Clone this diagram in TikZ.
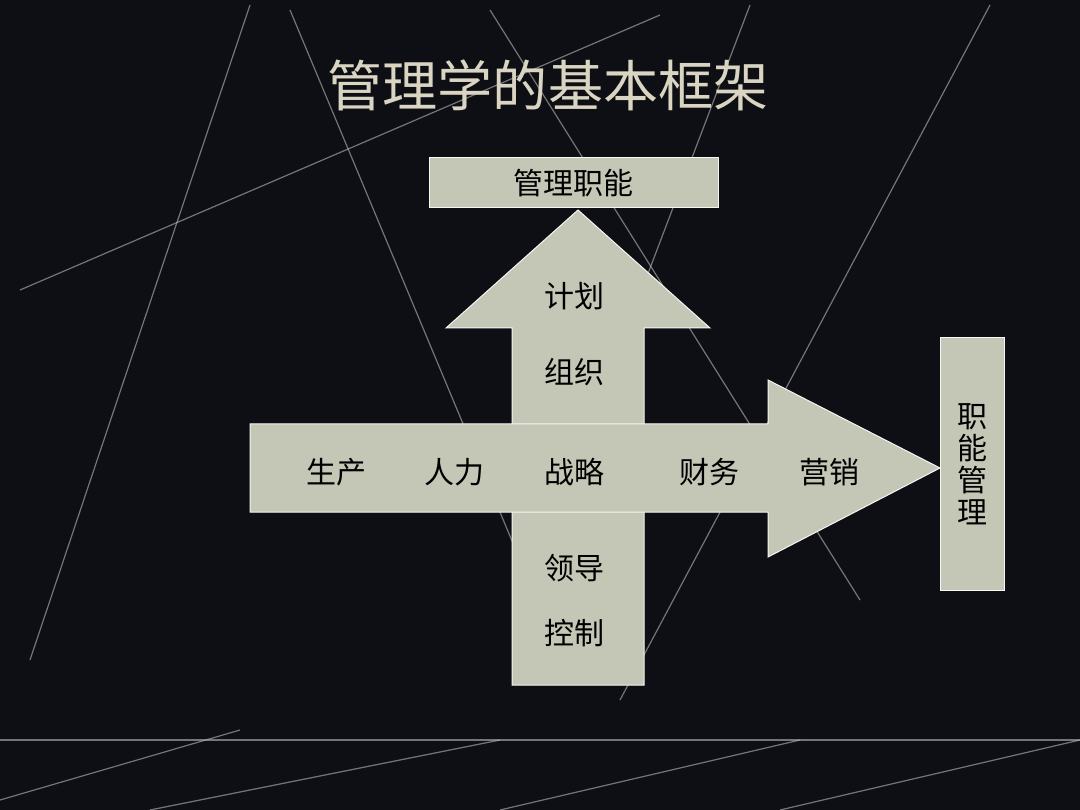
\documentclass[tikz,border=0pt]{standalone}
\usepackage{fontspec}
\newfontfamily\cjk{Noto Sans CJK SC}
\begin{document}
\begin{tikzpicture}[x=1pt,y=-1pt,
  shp/.style={fill=boxc,draw=white!85!boxc,line width=1pt},
  lbl/.style={font=\cjk\fontsize{30}{34}\selectfont,text=black},
  bgl/.style={draw=gray!55,line width=1.2pt,opacity=0.6}]
\definecolor{boxc}{HTML}{C4C6B6}
\definecolor{titc}{HTML}{D9D5C2}
\fill[fill={rgb,255:red,14;green,15;blue,20}] (0,0) rectangle (1080,810);
\useasboundingbox (0,0) rectangle (1080,810);
% background lines
\draw[bgl] (20,290) -- (660,15);
\draw[bgl] (30,660) -- (250,5);
\draw[bgl] (290,10) -- (520,560);
\draw[bgl] (490,10) -- (860,600);
\draw[bgl] (990,5) -- (620,700);
\draw[bgl] (750,5) -- (600,400);
\draw[bgl] (0,740) -- (1080,740);
\draw[bgl] (0,800) -- (240,730);
\draw[bgl] (150,810) -- (500,740);
\draw[bgl] (500,810) -- (800,740);
\draw[bgl] (780,810) -- (1080,740);
% title
\node[font=\cjk\fontsize{58}{64}\selectfont,text=titc,scale=0.95] (title) at (548,85) {管理学的基本框架};
% top box
\node[shp,minimum width=289pt,minimum height=50pt,inner sep=0pt] (top) at (573.5,183) {};
\node[lbl] at (top.center) {管理职能};
% vertical arrow
\draw[shp] (578,210) -- (710,328) -- (644,328) -- (644,685) -- (512,685) -- (512,328) -- (446,328) -- cycle;
% horizontal arrow
\draw[shp] (250,424) -- (768,424) -- (768,380) -- (940,468) -- (768,557) -- (768,512) -- (250,512) -- cycle;
% right box
\node[shp,minimum width=64pt,minimum height=252pt,inner sep=0pt] (rbox) at (972,464) {};
\node[lbl,align=center,font=\cjk\fontsize{30}{32}\selectfont] at (rbox.center) {职\\能\\管\\理};
% labels
\node[lbl] (jh) at (574,296) {计划};
\node[lbl] (zz) at (574,372) {组织};
\node[lbl] (sc) at (336,472) {生产};
\node[lbl] (rl) at (454,472) {人力};
\node[lbl] (zl) at (574,472) {战略};
\node[lbl] (cw) at (709,472) {财务};
\node[lbl] (yx) at (829,472) {营销};
\node[lbl] (ld) at (574,568) {领导};
\node[lbl] (kz) at (574,633) {控制};
\end{tikzpicture}
\end{document}
